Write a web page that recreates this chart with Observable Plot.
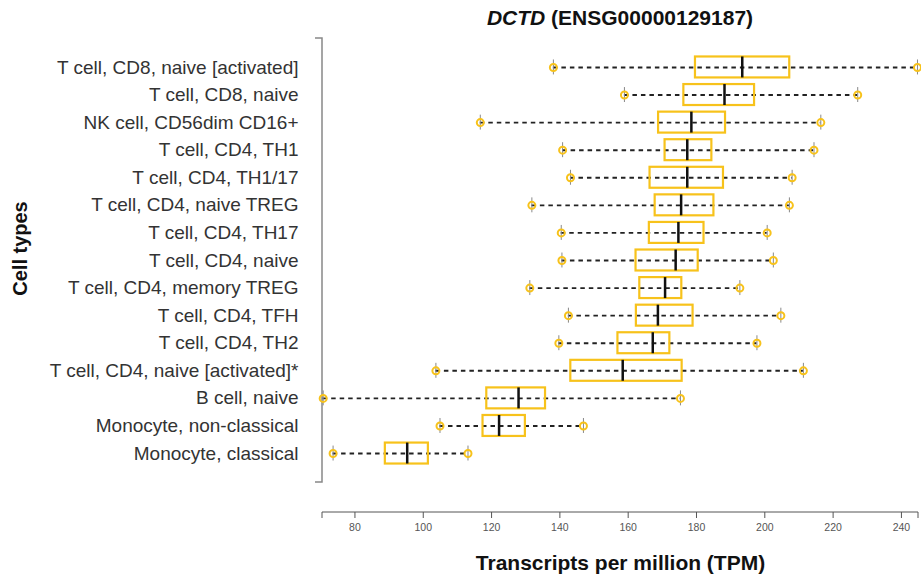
<!DOCTYPE html>
<html>
<head>
<meta charset="utf-8">
<script src="https://cdn.jsdelivr.net/npm/d3@7"></script>
<script src="https://cdn.jsdelivr.net/npm/@observablehq/plot@0.6"></script>
<style>
  html, body { margin: 0; padding: 0; background: #fff; }
  #wrap { position: relative; width: 921px; height: 578px; font-family: "Liberation Sans", Arial, sans-serif; }
  #title { position: absolute; top: 6px; left: 322px; width: 596px; text-align: center;
           font: bold 21px "Liberation Sans", Arial, sans-serif; color: #111; line-height: 24px; }
  #chart { position: absolute; top: 0; left: 0; }
</style>
</head>
<body>
<div id="wrap">
  <div id="chart"></div>
  <div id="title"><i>DCTD</i> (ENSG00000129187)</div>
</div>
<script>
const cellTypes = [
  "T cell, CD8, naive [activated]",
  "T cell, CD8, naive",
  "NK cell, CD56dim CD16+",
  "T cell, CD4, TH1",
  "T cell, CD4, TH1/17",
  "T cell, CD4, naive TREG",
  "T cell, CD4, TH17",
  "T cell, CD4, naive",
  "T cell, CD4, memory TREG",
  "T cell, CD4, TFH",
  "T cell, CD4, TH2",
  "T cell, CD4, naive [activated]*",
  "B cell, naive",
  "Monocyte, non-classical",
  "Monocyte, classical"
];
const minVals    = [138.1, 158.9, 116.7, 140.8, 143.1, 131.8, 140.4, 140.6, 131.2, 142.5, 139.7, 103.7, 70.7, 104.9, 73.6];
const q1Vals     = [179.7, 176.3, 168.9, 170.8, 166.4, 167.9, 166.2, 162.3, 163.4, 162.4, 157.0, 143.2, 118.6, 117.5, 88.9];
const medianVals = [193.4, 188.2, 178.5, 177.3, 177.3, 175.5, 174.7, 173.9, 170.8, 168.7, 167.2, 158.4, 127.9, 122.2, 95.3];
const q3Vals     = [207.3, 197.0, 188.5, 184.5, 187.9, 185.1, 182.2, 180.5, 175.7, 179.0, 172.2, 175.8, 135.8, 129.9, 101.5];
const maxVals    = [244.7, 227.2, 216.4, 214.4, 208.0, 207.2, 200.7, 202.5, 192.7, 204.7, 197.7, 211.3, 175.3, 146.9, 113.1];
const xTicks = [80, 100, 120, 140, 160, 180, 200, 220, 240];
const xDomain = [70.5, 245];

const data = cellTypes.map((name, i) => ({
  name, min: minVals[i], q1: q1Vals[i], median: medianVals[i], q3: q3Vals[i], max: maxVals[i]
}));

const gold = "#f7c21b";
const yRange = [38, 482];

const plot = Plot.plot({
  width: 921,
  height: 578,
  marginLeft: 322,
  marginRight: 3,
  marginTop: 38,
  marginBottom: 66,
  style: { fontFamily: "Liberation Sans, Arial, sans-serif", background: "#fff" },
  x: { domain: xDomain },
  y: { domain: cellTypes, range: yRange, paddingInner: 0.24, paddingOuter: 0.67, round: false },
  marks: [
    Plot.axisY({ tickSize: 0, tickPadding: 24, fontSize: 19, color: "#333", label: null }),
    Plot.axisX({ ticks: xTicks, tickSize: 6, tickPadding: 5, fontSize: 10.5, color: "#555", label: null }),
    (index, scales, values, dims) => {
      const g = d3.create("svg:g").attr("fill", "none");
      const L = dims.marginLeft, R = dims.width - dims.marginRight, B = dims.height - dims.marginBottom;
      g.append("path").attr("stroke", "#888").attr("stroke-width", 1.5)
        .attr("d", `M${L - 7},${yRange[0]}H${L}V${yRange[1]}H${L - 7}`);
      g.append("path").attr("stroke", "#555").attr("stroke-width", 1)
        .attr("d", `M${L},${B + 6}V${B}H${R}V${B + 6}`);
      return g.node();
    },
    Plot.ruleY(data, { y: "name", x1: "min", x2: "max", stroke: "#222", strokeWidth: 1.9, strokeDasharray: "4.5,4" }),
    Plot.tickX(data, { x: "min", y: "name", stroke: "#888", strokeWidth: 1, insetTop: 3, insetBottom: 3 }),
    Plot.tickX(data, { x: "max", y: "name", stroke: "#888", strokeWidth: 1, insetTop: 3, insetBottom: 3 }),
    Plot.barX(data, { y: "name", x1: "q1", x2: "q3", fill: "none", stroke: gold, strokeWidth: 2.2 }),
    Plot.tickX(data, { x: "median", y: "name", stroke: "#111", strokeWidth: 2.5 }),
    Plot.dot(data, { x: "min", y: "name", r: 3.5, stroke: gold, strokeWidth: 2, fill: "none" }),
    Plot.dot(data, { x: "max", y: "name", r: 3.5, stroke: gold, strokeWidth: 2, fill: "none" }),
    Plot.text(["Cell types"], { frameAnchor: "left", textAnchor: "middle", lineAnchor: "middle", dx: -302, dy: -27, rotate: -90, fontSize: 20, fontWeight: "bold", fill: "#111" }),
    Plot.text(["Transcripts per million (TPM)"], { frameAnchor: "bottom", textAnchor: "middle", lineAnchor: "middle", dy: 51, fontSize: 21, fontWeight: "bold", fill: "#111" })
  ]
});
document.getElementById("chart").appendChild(plot);
</script>
</body>
</html>
